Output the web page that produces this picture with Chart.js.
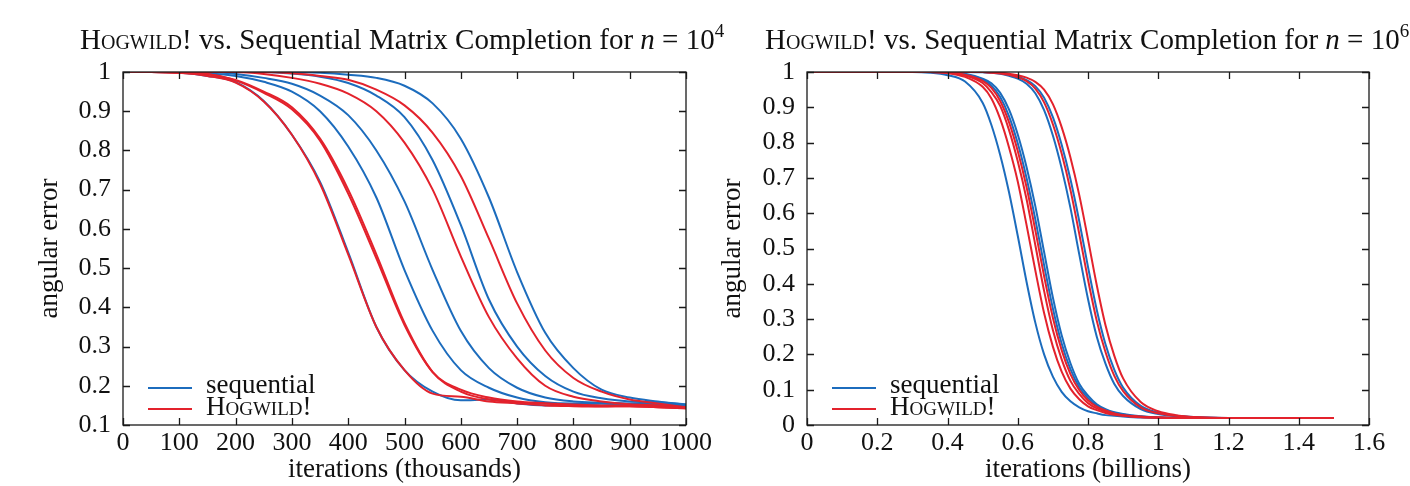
<!DOCTYPE html>
<html>
<head>
<meta charset="utf-8">
<script src="https://cdn.jsdelivr.net/npm/chart.js@4.4.1/dist/chart.umd.min.js"></script>
<style>
  body { margin: 0; background: #fff; }
  #wrap { position: relative; width: 1410px; height: 486px; overflow: hidden;
          font-family: "Liberation Serif", "DejaVu Serif", serif; color: #111; }
  canvas { position: absolute; left: 0; top: 0; }
  .title { position: absolute; top: 25px; white-space: nowrap; font-size: 29px; line-height: 29px; }
  .title sup { font-size: 19px; line-height: 0; vertical-align: 12px; }
  .sc { font-variant: small-caps; }
  .key { position: absolute; font-size: 27px; line-height: 27px; white-space: nowrap; }
  .swatch { position: absolute; height: 2px; width: 44px; }
</style>
</head>
<body>
<div id="wrap">
  <canvas id="left" width="1410" height="486"></canvas>
  <canvas id="right" width="1410" height="486"></canvas>
  <div class="title" style="left:80px"><span class="sc">Hogwild</span>! vs. Sequential Matrix Completion for <i>n</i> = 10<sup>4</sup></div>
  <div class="title" style="left:765px"><span class="sc">Hogwild</span>! vs. Sequential Matrix Completion for <i>n</i> = 10<sup>6</sup></div>
</div>
<script>
// ---- left panel: n = 10^4, x in thousands of iterations ----
const xLeft = [0, 50, 100, 150, 200, 250, 300, 350, 400, 450, 500, 550, 600, 650, 700, 750, 800, 850, 900, 950, 1000];

const leftSeq1 = [1, 1, 0.998, 0.99, 0.974, 0.926, 0.84, 0.72, 0.54, 0.35, 0.24, 0.185, 0.163, 0.165, 0.155, 0.15, 0.153, 0.155, 0.152, 0.153, 0.15];
const leftSeq2 = [1, 1, 1, 0.997, 0.99, 0.975, 0.95, 0.9, 0.81, 0.68, 0.495, 0.34, 0.24, 0.195, 0.17, 0.158, 0.155, 0.155, 0.153, 0.152, 0.15];
const leftSeq3 = [1, 1, 1, 1, 0.995, 0.985, 0.97, 0.94, 0.89, 0.8, 0.67, 0.495, 0.34, 0.245, 0.195, 0.17, 0.16, 0.157, 0.155, 0.153, 0.15];
const leftSeq4 = [1, 1, 1, 1, 1, 1, 0.996, 0.988, 0.972, 0.94, 0.885, 0.775, 0.61, 0.42, 0.3, 0.225, 0.185, 0.168, 0.16, 0.158, 0.152];
const leftSeq5 = [1, 1, 1, 1, 1, 1, 1, 0.998, 0.993, 0.985, 0.965, 0.92, 0.83, 0.68, 0.49, 0.335, 0.245, 0.19, 0.17, 0.16, 0.152];

const leftHog1 = [1, 1, 0.998, 0.99, 0.973, 0.925, 0.84, 0.715, 0.535, 0.35, 0.24, 0.18, 0.172, 0.16, 0.155, 0.15, 0.148, 0.147, 0.148, 0.145, 0.143];
const leftHog2 = [1, 1, 0.998, 0.995, 0.98, 0.95, 0.91, 0.83, 0.7, 0.535, 0.36, 0.235, 0.185, 0.165, 0.158, 0.155, 0.152, 0.15, 0.15, 0.147, 0.145];
const leftHog3 = [1, 1, 0.998, 0.994, 0.978, 0.947, 0.905, 0.825, 0.69, 0.525, 0.355, 0.235, 0.19, 0.17, 0.16, 0.155, 0.15, 0.148, 0.148, 0.145, 0.143];
const leftHog4 = [1, 1, 1, 1, 1, 0.995, 0.985, 0.97, 0.945, 0.9, 0.82, 0.7, 0.53, 0.375, 0.27, 0.2, 0.172, 0.16, 0.153, 0.15, 0.143];
const leftHog5 = [1, 1, 1, 1, 1, 1, 0.997, 0.99, 0.98, 0.955, 0.915, 0.845, 0.735, 0.575, 0.41, 0.29, 0.22, 0.185, 0.165, 0.155, 0.145];

const xTicksLeft = ['0', '100', '200', '300', '400', '500', '600', '700', '800', '900', '1000'];
const yTicksLeft = ['0.1', '0.2', '0.3', '0.4', '0.5', '0.6', '0.7', '0.8', '0.9', '1'];

// ---- right panel: n = 10^6, x in billions of iterations ----
const xRight = [0, 0.1, 0.2, 0.3, 0.35, 0.4, 0.45, 0.5, 0.525, 0.55, 0.575, 0.6, 0.625, 0.65, 0.675, 0.7, 0.725, 0.75, 0.775, 0.8, 0.825, 0.85, 0.875, 0.9, 0.95, 1.0, 1.05, 1.1, 1.2, 1.3, 1.4, 1.5];

const rightSeq1 = [1, 1, 1, 1, 0.998, 0.991, 0.973, 0.913, 0.85, 0.765, 0.66, 0.536, 0.406, 0.29, 0.2, 0.137, 0.094, 0.067, 0.05, 0.039, 0.033, 0.028, 0.026, 0.024, 0.021, 0.02, 0.02, 0.02, 0.02, 0.02, 0.02, 0.02];
const rightSeq2 = [1, 1, 1, 1, 1, 0.999, 0.993, 0.978, 0.961, 0.929, 0.875, 0.798, 0.7, 0.583, 0.453, 0.33, 0.231, 0.158, 0.107, 0.076, 0.055, 0.043, 0.035, 0.03, 0.024, 0.021, 0.02, 0.02, 0.02, 0.02, 0.02, 0.02];
const rightSeq3 = [1, 1, 1, 1, 1, 0.999, 0.995, 0.981, 0.968, 0.941, 0.894, 0.823, 0.731, 0.62, 0.49, 0.361, 0.254, 0.175, 0.117, 0.083, 0.059, 0.045, 0.036, 0.031, 0.025, 0.022, 0.02, 0.02, 0.02, 0.02, 0.02, 0.02];
const rightSeq4 = [1, 1, 1, 1, 1, 1, 1, 0.999, 0.998, 0.995, 0.989, 0.981, 0.967, 0.94, 0.892, 0.82, 0.727, 0.615, 0.484, 0.357, 0.25, 0.173, 0.116, 0.082, 0.045, 0.031, 0.025, 0.022, 0.02, 0.02, 0.02, 0.02];
const rightSeq5 = [1, 1, 1, 1, 1, 1, 1, 1, 0.999, 0.997, 0.993, 0.987, 0.977, 0.96, 0.927, 0.872, 0.794, 0.696, 0.578, 0.448, 0.326, 0.228, 0.156, 0.106, 0.054, 0.035, 0.026, 0.023, 0.02, 0.02, 0.02, 0.02];

const rightHog1 = [1, 1, 1, 1, 1, 0.997, 0.986, 0.958, 0.925, 0.867, 0.787, 0.69, 0.567, 0.438, 0.317, 0.222, 0.151, 0.103, 0.073, 0.053, 0.042, 0.034, 0.029, 0.026, 0.022, 0.021, 0.02, 0.02, 0.02, 0.02, 0.02, 0.02];
const rightHog2 = [1, 1, 1, 1, 1, 0.998, 0.99, 0.969, 0.943, 0.904, 0.836, 0.747, 0.64, 0.51, 0.38, 0.269, 0.186, 0.125, 0.088, 0.062, 0.047, 0.038, 0.031, 0.027, 0.023, 0.021, 0.02, 0.02, 0.02, 0.02, 0.02, 0.02];
const rightHog3 = [1, 1, 1, 1, 1, 0.998, 0.992, 0.975, 0.955, 0.918, 0.858, 0.776, 0.674, 0.552, 0.422, 0.304, 0.212, 0.144, 0.099, 0.07, 0.052, 0.041, 0.033, 0.028, 0.024, 0.021, 0.02, 0.02, 0.02, 0.02, 0.02, 0.02];
const rightHog4 = [1, 1, 1, 1, 1, 1, 1, 1, 0.998, 0.996, 0.992, 0.985, 0.974, 0.953, 0.914, 0.852, 0.769, 0.666, 0.542, 0.412, 0.295, 0.206, 0.139, 0.096, 0.05, 0.033, 0.026, 0.022, 0.02, 0.02, 0.02, 0.02];
const rightHog5 = [1, 1, 1, 1, 1, 1, 1, 1, 0.999, 0.998, 0.995, 0.991, 0.984, 0.972, 0.95, 0.909, 0.844, 0.758, 0.652, 0.526, 0.396, 0.282, 0.196, 0.132, 0.065, 0.039, 0.028, 0.023, 0.02, 0.02, 0.02, 0.02];

const xTicksRight = ['0', '0.2', '0.4', '0.6', '0.8', '1', '1.2', '1.4', '1.6'];
const yTicksRight = ['0', '0.1', '0.2', '0.3', '0.4', '0.5', '0.6', '0.7', '0.8', '0.9', '1'];

const seqColor = '#1c6cbd';
const hogColor = '#e3222c';
const serif = '"Liberation Serif", "DejaVu Serif", serif';
const legendItems = [
    { label: 'sequential', color: seqColor },
    { label: '<span class="sc">Hogwild</span>!', color: hogColor }
];

function lines(xs, series, color) {
    return series.map(ys => ({
        data: xs.map((x, i) => ({ x: x, y: ys[i] })),
        borderColor: color,
        borderWidth: 2,
        pointRadius: 0,
        fill: false,
        cubicInterpolationMode: 'monotone'
    }));
}

// gnuplot style box with inward ticks on all four sides
const frameTicks = {
    id: 'frameTicks',
    afterDatasetsDraw(chart) {
        const { ctx, chartArea: a, scales: { x, y } } = chart;
        const len = 7;
        ctx.save();
        ctx.strokeStyle = '#1a1a1a';
        ctx.lineWidth = 1.3;
        ctx.beginPath();
        x.ticks.forEach(t => {
            const px = Math.round(x.getPixelForValue(t.value)) + 0.5;
            ctx.moveTo(px, a.bottom); ctx.lineTo(px, a.bottom - len);
            ctx.moveTo(px, a.top); ctx.lineTo(px, a.top + len);
        });
        y.ticks.forEach(t => {
            const py = Math.round(y.getPixelForValue(t.value)) + 0.5;
            ctx.moveTo(a.left, py); ctx.lineTo(a.left + len, py);
            ctx.moveTo(a.right, py); ctx.lineTo(a.right - len, py);
        });
        ctx.stroke();
        ctx.strokeRect(a.left, a.top, a.width, a.height);
        ctx.restore();
    }
};

function makeChart(id, cfg) {
    const tickFont = { family: serif, size: 26 };
    const titleFont = { family: serif, size: 27 };
    return new Chart(document.getElementById(id), {
        type: 'line',
        data: { datasets: lines(cfg.xs, cfg.hog, hogColor).concat(lines(cfg.xs, cfg.seq, seqColor)) },
        options: {
            responsive: false,
            animation: false,
            events: [],
            layout: { autoPadding: false, padding: { left: cfg.padLeft, right: cfg.padRight, top: 72, bottom: 0 } },
            plugins: { legend: { display: false }, tooltip: { enabled: false } },
            scales: {
                x: {
                    type: 'linear',
                    min: cfg.xMin, max: cfg.xMax,
                    grid: { display: false, drawTicks: false },
                    border: { display: false },
                    ticks: {
                        stepSize: cfg.xStep, autoSkip: false, maxRotation: 0, padding: 3,
                        color: '#111', font: tickFont,
                        callback: (v, i) => cfg.xTicks[i]
                    },
                    title: { display: true, text: cfg.xTitle, color: '#111', font: titleFont, padding: 0 },
                    afterFit: s => { s.height = 61; }
                },
                y: {
                    min: cfg.yMin, max: 1,
                    grid: { display: false, drawTicks: false },
                    border: { display: false },
                    ticks: {
                        stepSize: 0.1, autoSkip: false, padding: 12,
                        color: '#111', font: tickFont,
                        callback: (v, i) => cfg.yTicks[i]
                    },
                    title: { display: true, text: 'angular error', color: '#111', font: titleFont, padding: 0 },
                    afterFit: s => { s.width = cfg.yWidth; }
                }
            }
        },
        plugins: [frameTicks]
    });
}

makeChart('left', {
    xs: xLeft, seq: [leftSeq1, leftSeq2, leftSeq3, leftSeq4, leftSeq5],
    hog: [leftHog1, leftHog2, leftHog3, leftHog4, leftHog5],
    xMin: 0, xMax: 1000, xStep: 100, yMin: 0.1,
    xTicks: xTicksLeft, yTicks: yTicksLeft,
    xTitle: 'iterations (thousands)',
    padLeft: 34, yWidth: 89, padRight: 1410 - 686
});

makeChart('right', {
    xs: xRight, seq: [rightSeq1, rightSeq2, rightSeq3, rightSeq4, rightSeq5],
    hog: [rightHog1, rightHog2, rightHog3, rightHog4, rightHog5],
    xMin: 0, xMax: 1.6, xStep: 0.2, yMin: 0,
    xTicks: xTicksRight, yTicks: yTicksRight,
    xTitle: 'iterations (billions)',
    padLeft: 717, yWidth: 90, padRight: 1410 - 1369
});

// legends sit in the lower left corner of each plot box
const wrap = document.getElementById('wrap');
[148, 832].forEach(x0 => {
    legendItems.forEach((item, k) => {
        const sw = document.createElement('div');
        sw.className = 'swatch';
        sw.style.left = x0 + 'px';
        sw.style.top = (386.5 + k * 21) + 'px';
        sw.style.background = item.color;
        wrap.appendChild(sw);
        const tx = document.createElement('div');
        tx.className = 'key';
        tx.style.left = (x0 + 58) + 'px';
        tx.style.top = (371 + k * 21.5) + 'px';
        tx.innerHTML = item.label;
        wrap.appendChild(tx);
    });
});
</script>
</body>
</html>
